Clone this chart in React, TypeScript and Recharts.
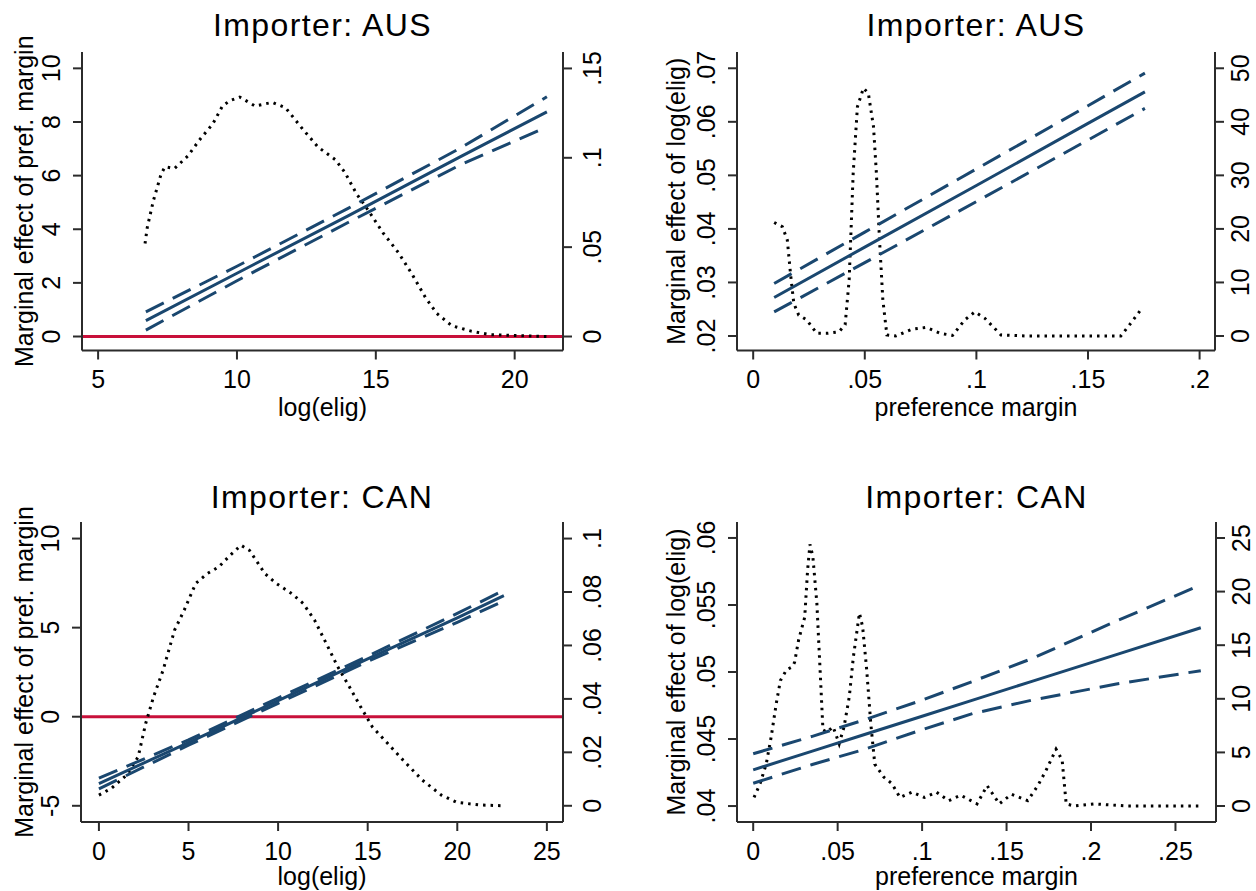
import React from 'react';
import { ComposedChart, Line, XAxis, YAxis, ReferenceLine } from 'recharts';

const FONT = '"Liberation Sans", Arial, sans-serif';
const NAVY = '#1a476f';
const RED = '#c8103a';
const AXIS = '#2b2b2b';

// Importer AUS, marginal effect of pref. margin over log(elig)
const ausEligFitX = [6.72, 10, 14, 18, 21.16];
const ausEligFit = [0.59, 2.36, 4.5, 6.68, 8.38];
const ausEligUpper = [0.92, 2.62, 4.78, 7.0, 8.94];
const ausEligLower = [0.24, 2.08, 4.25, 6.38, 7.82];
const ausEligDensX = [6.69, 6.77, 6.99, 7.27, 7.41, 7.75, 8.23, 8.65, 9.13, 9.48, 9.75, 10.1, 10.65, 11.27, 11.75, 12.37, 12.92, 13.54, 13.88, 14.3, 14.71, 15.26, 15.81, 16.3, 16.78, 17.19, 17.74, 18.43, 19.12, 20.08, 21.16];
const ausEligDens = [0.052, 0.061, 0.076, 0.091, 0.095, 0.094, 0.101, 0.11, 0.119, 0.129, 0.132, 0.134, 0.129, 0.131, 0.128, 0.116, 0.106, 0.099, 0.092, 0.08, 0.071, 0.058, 0.047, 0.035, 0.022, 0.013, 0.006, 0.003, 0.001, 0.0005, 0];

// Importer AUS, marginal effect of log(elig) over preference margin
const ausPrefFitX = [0.0094, 0.05, 0.1, 0.15, 0.1755];
const ausPrefFit = [0.0272, 0.0366, 0.0481, 0.0597, 0.0656];
const ausPrefUpper = [0.0298, 0.0394, 0.0512, 0.063, 0.0691];
const ausPrefLower = [0.0245, 0.0337, 0.0451, 0.0566, 0.0625];
const ausPrefDensX = [0.0094, 0.0131, 0.0153, 0.0167, 0.0182, 0.0204, 0.024, 0.0285, 0.0331, 0.0385, 0.0412, 0.043, 0.0448, 0.0467, 0.0494, 0.0516, 0.0539, 0.0552, 0.0566, 0.0581, 0.0599, 0.0639, 0.0711, 0.0775, 0.0838, 0.0893, 0.0948, 0.0993, 0.1038, 0.111, 0.122, 0.14, 0.1647, 0.1692, 0.1737];
const ausPrefDens = [21.2, 20.4, 17.9, 11.7, 6.1, 3.9, 3.0, 0.5, 0.5, 0.8, 2.1, 10.5, 30.4, 42.8, 46.3, 45.3, 39.1, 30.4, 17.9, 6.7, 0.2, 0, 1.25, 1.6, 0.5, 0.1, 3.0, 4.5, 3.3, 0.2, 0, 0, 0, 2.4, 4.9];

// Importer CAN, marginal effect of pref. margin over log(elig)
const canEligFitX = [0, 5, 10, 15, 20, 22.6];
const canEligFit = [-3.75, -1.45, 0.9, 3.25, 5.55, 6.8];
const canEligUpper = [-3.45, -1.3, 1.05, 3.4, 5.8, 7.1];
const canEligLower = [-4.05, -1.6, 0.75, 3.1, 5.3, 6.5];
const canEligDensX = [0, 0.69, 1.55, 2.19, 2.61, 3.05, 3.58, 4.22, 4.76, 5.4, 6.05, 6.69, 7.33, 7.93, 8.4, 9.26, 9.9, 10.76, 11.4, 12.04, 12.69, 13.33, 13.98, 14.61, 15.26, 16.12, 16.97, 18.05, 19.11, 19.97, 21.26, 22.54];
const canEligDens = [0.004, 0.0065, 0.0115, 0.0183, 0.0308, 0.0408, 0.0507, 0.0657, 0.0732, 0.0832, 0.0869, 0.0894, 0.0938, 0.0975, 0.0956, 0.0869, 0.0832, 0.0794, 0.0757, 0.0694, 0.0607, 0.052, 0.0445, 0.037, 0.0295, 0.0233, 0.0171, 0.0096, 0.004, 0.0013, 0.0003, 0];

// Importer CAN, marginal effect of log(elig) over preference margin
const canPrefFitX = [0, 0.035, 0.065, 0.1, 0.13, 0.165, 0.215, 0.265];
const canPrefFit = [0.0427, 0.0441, 0.0453, 0.0467, 0.0479, 0.0493, 0.0513, 0.0533];
const canPrefUpper = [0.0439, 0.0452, 0.0464, 0.0479, 0.0493, 0.051, 0.0538, 0.0565];
const canPrefLower = [0.0417, 0.0431, 0.0442, 0.0457, 0.0469, 0.0479, 0.0491, 0.0501];
const canPrefDensX = [0.0005, 0.0041, 0.0077, 0.0106, 0.0137, 0.0161, 0.0197, 0.0233, 0.0245, 0.0269, 0.0305, 0.0322, 0.0336, 0.0353, 0.0377, 0.0396, 0.0413, 0.0437, 0.0473, 0.0509, 0.0538, 0.0569, 0.0593, 0.0629, 0.0648, 0.0672, 0.0696, 0.072, 0.0773, 0.0821, 0.0869, 0.0941, 0.1013, 0.1085, 0.1157, 0.1229, 0.1325, 0.1385, 0.1457, 0.1529, 0.1625, 0.1685, 0.1733, 0.1793, 0.1829, 0.1853, 0.1901, 0.2021, 0.2213, 0.265];
const canPrefDens = [0.8, 2.1, 3.9, 6.4, 9.6, 11.7, 12.7, 13.0, 13.4, 15.5, 17.6, 22.0, 24.4, 23.3, 18.9, 12.7, 7.1, 6.9, 7.4, 5.8, 7.4, 10.2, 13.9, 18.0, 16.7, 12.7, 7.7, 3.9, 2.7, 2.1, 0.8, 1.3, 0.8, 1.3, 0.5, 1.0, 0.2, 1.9, 0.2, 1.1, 0.5, 1.9, 3.3, 5.3, 4.3, 0.2, 0, 0.2, 0, 0];

// tick values
const ausEligXTicks = [5, 10, 15, 20];
const ausEligYTicks = [0, 2, 4, 6, 8, 10];
const ausEligRTicks = [0, 0.05, 0.1, 0.15];
const ausPrefXTicks = [0, 0.05, 0.1, 0.15, 0.2];
const ausPrefYTicks = [0.02, 0.03, 0.04, 0.05, 0.06, 0.07];
const ausPrefRTicks = [0, 10, 20, 30, 40, 50];
const canEligXTicks = [0, 5, 10, 15, 20, 25];
const canEligYTicks = [-5, 0, 5, 10];
const canEligRTicks = [0, 0.02, 0.04, 0.06, 0.08, 0.1];
const canPrefXTicks = [0, 0.05, 0.1, 0.15, 0.2, 0.25];
const canPrefYTicks = [0.04, 0.045, 0.05, 0.055, 0.06];
const canPrefRTicks = [0, 5, 10, 15, 20, 25];

type Pt = { x: number; y: number };
const zip = (xs: number[], ys: number[]): Pt[] => xs.map((x, i) => ({ x, y: ys[i] }));

// Stata style labels: .05 instead of 0.05
const fmt = (v: number) => String(v).replace(/^0\./, '.').replace(/^-0\./, '-.');

const RotTick = (props: any) => {
	const { x, y, payload, side } = props;
	const bx = side === 'right' ? x + 18 : x;
	return (
		<text
			x={bx}
			y={y}
			transform={`rotate(-90 ${bx} ${y})`}
			textAnchor='middle'
			fontSize={25}
			fontFamily={FONT}
			fill='#000'>
			{fmt(payload.value)}
		</text>
	);
};

type PanelProps = {
	left: number;
	top: number;
	height: number;
	plotTop: number;
	xAxisH: number;
	yLeftW: number;
	yRightW: number;
	rTickMargin: number;
	title: string;
	titleOffset: number;
	xLabel: string;
	xLabelOffset: number;
	yLabel: string;
	yLabelOffset: number;
	xDomain: [number, number];
	xTicks: number[];
	yDomain: [number, number];
	yTicks: number[];
	rDomain: [number, number];
	rTicks: number[];
	fit: Pt[];
	upper: Pt[];
	lower: Pt[];
	density: Pt[];
	zeroLine?: boolean;
};

const W = 628;

const Panel = (p: PanelProps) => {
	const axisLine = { stroke: AXIS, strokeWidth: 2 };
	const tickLine = { stroke: AXIS, strokeWidth: 2 };
	const titleX = p.yLeftW + (W - p.yLeftW - p.yRightW) / 2;
	return (
		<div style={{ position: 'absolute', left: p.left, top: p.top, width: W, height: p.height }}>
			<svg
				width={W}
				height={p.plotTop}
				style={{ position: 'absolute', left: 0, top: 0, overflow: 'visible' }}>
				<text
					x={titleX}
					y={p.plotTop - p.titleOffset}
					textAnchor='middle'
					fontSize={32}
					fontFamily={FONT}
					letterSpacing={1.4}
					fill='#000'>
					{p.title}
				</text>
			</svg>
			<div style={{ position: 'absolute', left: 0, top: 0 }}>
				<ComposedChart
					width={W}
					height={p.height}
					margin={{ top: p.plotTop, right: 0, bottom: 0, left: 0 }}>
					<XAxis
						xAxisId='top'
						orientation='top'
						type='number'
						dataKey='x'
						domain={p.xDomain}
						allowDataOverflow
						height={0}
						tick={false}
						tickLine={false}
						axisLine={axisLine}
					/>
					<XAxis
						xAxisId='x'
						type='number'
						dataKey='x'
						domain={p.xDomain}
						allowDataOverflow
						ticks={p.xTicks}
						interval={0}
						height={p.xAxisH}
						tickSize={9}
						tickMargin={11}
						tickFormatter={fmt}
						tick={{ fontSize: 25, fill: '#000', fontFamily: FONT }}
						axisLine={axisLine}
						tickLine={tickLine}
						label={{
							value: p.xLabel,
							position: 'insideBottom',
							offset: p.xLabelOffset,
							fill: '#000',
							fontSize: 25,
							fontFamily: FONT,
						}}
					/>
					<YAxis
						yAxisId='left'
						type='number'
						domain={p.yDomain}
						allowDataOverflow
						ticks={p.yTicks}
						interval={0}
						width={p.yLeftW}
						tickSize={9}
						tickMargin={13}
						tick={<RotTick side='left' />}
						axisLine={axisLine}
						tickLine={tickLine}
						label={{
							value: p.yLabel,
							angle: -90,
							position: 'insideLeft',
							offset: p.yLabelOffset,
							fill: '#000',
							fontSize: 25,
							fontFamily: FONT,
							style: { textAnchor: 'middle' },
						}}
					/>
					<YAxis
						yAxisId='right'
						orientation='right'
						type='number'
						domain={p.rDomain}
						allowDataOverflow
						ticks={p.rTicks}
						interval={0}
						width={p.yRightW}
						tickSize={9}
						tickMargin={p.rTickMargin}
						tick={<RotTick side='right' />}
						axisLine={axisLine}
						tickLine={tickLine}
					/>
					{p.zeroLine && (
						<ReferenceLine xAxisId='x' yAxisId='left' y={0} stroke={RED} strokeWidth={3} />
					)}
					<Line
						xAxisId='x'
						yAxisId='right'
						data={p.density}
						dataKey='y'
						type='linear'
						stroke='#000'
						strokeWidth={3}
						strokeDasharray='2.5 5'
						dot={false}
						activeDot={false}
						isAnimationActive={false}
					/>
					<Line
						xAxisId='x'
						yAxisId='left'
						data={p.upper}
						dataKey='y'
						type='linear'
						stroke={NAVY}
						strokeWidth={3}
						strokeDasharray='20 10'
						dot={false}
						activeDot={false}
						isAnimationActive={false}
					/>
					<Line
						xAxisId='x'
						yAxisId='left'
						data={p.lower}
						dataKey='y'
						type='linear'
						stroke={NAVY}
						strokeWidth={3}
						strokeDasharray='20 10'
						dot={false}
						activeDot={false}
						isAnimationActive={false}
					/>
					<Line
						xAxisId='x'
						yAxisId='left'
						data={p.fit}
						dataKey='y'
						type='linear'
						stroke={NAVY}
						strokeWidth={3}
						dot={false}
						activeDot={false}
						isAnimationActive={false}
					/>
				</ComposedChart>
			</div>
		</div>
	);
};

const App = () => {
	return (
		<div
			style={{
				position: 'absolute',
				left: 0,
				top: 0,
				width: 1256,
				height: 891,
				background: '#fff',
				overflow: 'hidden',
			}}>
			<Panel
				left={0}
				top={0}
				height={445}
				plotTop={52}
				xAxisH={94.5}
				yLeftW={82}
				yRightW={65}
				rTickMargin={11}
				title='Importer: AUS'
				titleOffset={16}
				xLabel='log(elig)'
				xLabelOffset={29}
				yLabel='Marginal effect of pref. margin'
				yLabelOffset={24}
				xDomain={[4.42, 21.74]}
				xTicks={ausEligXTicks}
				yDomain={[-0.522, 10.61]}
				yTicks={ausEligYTicks}
				rDomain={[-0.00783, 0.1592]}
				rTicks={ausEligRTicks}
				fit={zip(ausEligFitX, ausEligFit)}
				upper={zip(ausEligFitX, ausEligUpper)}
				lower={zip(ausEligFitX, ausEligLower)}
				density={zip(ausEligDensX, ausEligDens)}
				zeroLine
			/>
			<Panel
				left={628}
				top={0}
				height={445}
				plotTop={52}
				xAxisH={94.5}
				yLeftW={109}
				yRightW={41}
				rTickMargin={7}
				title='Importer: AUS'
				titleOffset={16}
				xLabel='preference margin'
				xLabelOffset={29}
				yLabel='Marginal effect of log(elig)'
				yLabelOffset={48}
				xDomain={[-0.00725, 0.2069]}
				xTicks={ausPrefXTicks}
				yDomain={[0.01729, 0.07304]}
				yTicks={ausPrefYTicks}
				rDomain={[-2.71, 53.04]}
				rTicks={ausPrefRTicks}
				fit={zip(ausPrefFitX, ausPrefFit)}
				upper={zip(ausPrefFitX, ausPrefUpper)}
				lower={zip(ausPrefFitX, ausPrefLower)}
				density={zip(ausPrefDensX, ausPrefDens)}
			/>
			<Panel
				left={0}
				top={445}
				height={446}
				plotTop={77}
				xAxisH={69}
				yLeftW={81}
				yRightW={65}
				rTickMargin={11}
				title='Importer: CAN'
				titleOffset={14}
				xLabel='log(elig)'
				xLabelOffset={6}
				yLabel='Marginal effect of pref. margin'
				yLabelOffset={24}
				xDomain={[-1.0, 25.9]}
				xTicks={canEligXTicks}
				yDomain={[-5.91, 10.93]}
				yTicks={canEligYTicks}
				rDomain={[-0.00607, 0.1062]}
				rTicks={canEligRTicks}
				fit={zip(canEligFitX, canEligFit)}
				upper={zip(canEligFitX, canEligUpper)}
				lower={zip(canEligFitX, canEligLower)}
				density={zip(canEligDensX, canEligDens)}
				zeroLine
			/>
			<Panel
				left={628}
				top={445}
				height={446}
				plotTop={77}
				xAxisH={69}
				yLeftW={109}
				yRightW={40}
				rTickMargin={7}
				title='Importer: CAN'
				titleOffset={14}
				xLabel='preference margin'
				xLabelOffset={6}
				yLabel='Marginal effect of log(elig)'
				yLabelOffset={48}
				xDomain={[-0.00959, 0.274]}
				xTicks={canPrefXTicks}
				yDomain={[0.03881, 0.06119]}
				yTicks={canPrefYTicks}
				rDomain={[-1.49, 26.49]}
				rTicks={canPrefRTicks}
				fit={zip(canPrefFitX, canPrefFit)}
				upper={zip(canPrefFitX, canPrefUpper)}
				lower={zip(canPrefFitX, canPrefLower)}
				density={zip(canPrefDensX, canPrefDens)}
			/>
		</div>
	);
};

export default App;
